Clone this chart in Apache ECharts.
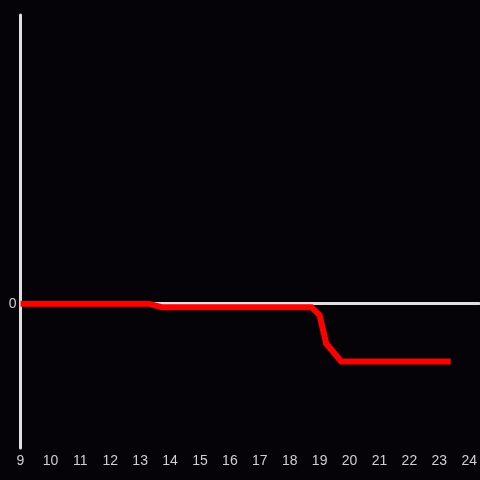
<!DOCTYPE html>
<html><head><meta charset="utf-8">
<script src="https://cdn.jsdelivr.net/npm/echarts@6/dist/echarts.min.js"></script>
<style>html,body{margin:0;padding:0;background:#050307;}#c{width:480px;height:480px;}</style>
</head><body><div id="c"></div>
<script>
const xValues = [9, 13.28, 13.72, 18.73, 19.0, 19.22, 19.72, 23.38];
const yValues = [0, 0, -0.06, -0.06, -0.2, -0.69, -1, -1];
const xTicks = [9,10,11,12,13,14,15,16,17,18,19,20,21,22,23,24];
const yTickLabels = ['0'];

const chart = echarts.init(document.getElementById('c'), null, {renderer:'canvas'});
chart.setOption({
  backgroundColor: '#050307',
  animation: false,
  grid: {left: 20.5, right: 0, top: 15, bottom: 32, containLabel: false},
  xAxis: [{
    type: 'value', min: 9, max: 24.33, interval: 1, position: 'bottom',
    axisLine: {show: false, onZero: false}, axisTick: {show: false}, splitLine: {show: false},
    axisLabel: {color: '#d0d0d0', fontSize: 14, fontFamily: 'Liberation Sans, Arial, sans-serif', margin: 6,
      formatter: v => xTicks.includes(v) ? String(v) : '', showMaxLabel: false}
  }, {
    type: 'value', min: 9, max: 24.33, position: 'bottom',
    axisLine: {show: true, onZero: true, lineStyle: {color: '#e0e0e0', width: 3}},
    axisTick: {show: false}, axisLabel: {show: false}, splitLine: {show: false}
  }],
  yAxis: {
    type: 'value', min: -2.5, max: 5, interval: 2.5,
    axisLine: {show: true, onZero: false, lineStyle: {color: '#e0e0e0', width: 3}},
    axisTick: {show: false}, splitLine: {show: false},
    axisLabel: {color: '#d0d0d0', fontSize: 14, fontFamily: 'Liberation Sans, Arial, sans-serif', margin: 4,
      formatter: v => yTickLabels.includes(String(v)) ? String(v) : ''}
  },
  series: [{
    type: 'line', xAxisIndex: 0,
    data: xValues.map((x, i) => [x, yValues[i]]),
    showSymbol: false, symbol: 'none',
    lineStyle: {color: '#ff0000', width: 6, cap: 'butt', join: 'miter'},
    z: 5
  }]
});
</script></body></html>
